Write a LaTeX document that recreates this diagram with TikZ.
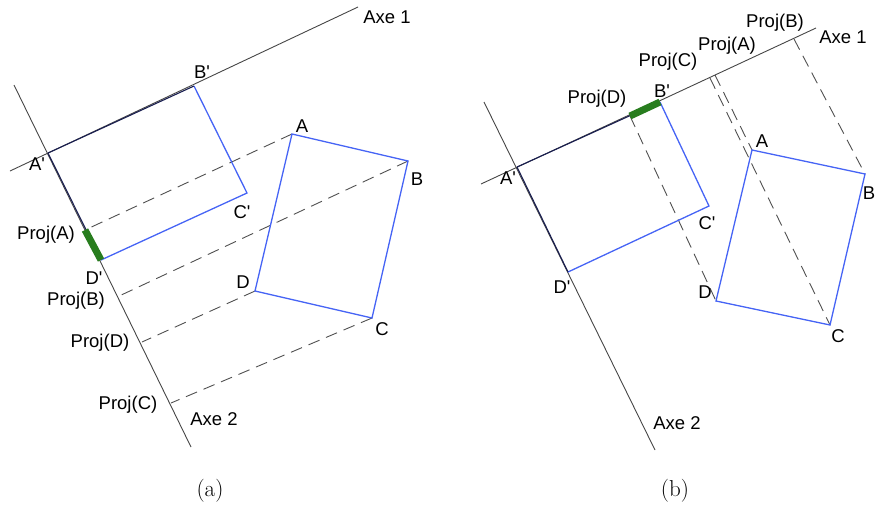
\documentclass[tikz,border=0pt]{standalone}
\usepackage{fontspec}
\setsansfont{Liberation Sans}[Ligatures=TeXOff]
\definecolor{edgeblue}{RGB}{70,100,245}
\definecolor{darkblue}{RGB}{25,30,80}
\definecolor{axisgray}{RGB}{70,70,70}
\definecolor{dashgray}{RGB}{80,80,80}
\definecolor{projgreen}{RGB}{40,125,30}
\begin{document}
\begin{tikzpicture}[x=1pt,y=-1pt,
 axis/.style={draw=axisgray,line width=0.9pt},
 edge/.style={draw=edgeblue,line width=1.3pt},
 dark/.style={draw=darkblue,line width=1.1pt},
 proj/.style={draw=dashgray,line width=0.9pt,dash pattern=on 12pt off 7pt},
 bar/.style={draw=projgreen,line width=7pt},
 lbl/.style={font=\sffamily\fontsize{18.5}{20}\selectfont,inner sep=0pt},
 captext/.style={font=\fontsize{23}{26}\selectfont,inner sep=0pt}]
\useasboundingbox (0,0) rectangle (876,507);

% ---------------- panel (a) ----------------
\coordinate (a1s) at (10,171);
\coordinate (a1e) at (358,7);
\coordinate (a2s) at (14,85);
\coordinate (a2e) at (191,447);
\coordinate (aAp) at (48,153);
\coordinate (aBp) at (194,86);
\coordinate (aCp) at (247,193);
\coordinate (aDp) at (101,260);
\coordinate (aA) at (292,134);
\coordinate (aB) at (408,161);
\coordinate (aC) at (372,318);
\coordinate (aD) at (255,291);
\coordinate (aPA) at (85,230);
\coordinate (aPB) at (117,297);
\coordinate (aPD) at (142,342);
\coordinate (aPC) at (171,403);

\draw[proj] (aA) -- (aPA);
\draw[proj] (aB) -- (aPB);
\draw[proj] (aD) -- (aPD);
\draw[proj] (aC) -- (aPC);
\draw[axis] (a1s) -- (a1e);
\draw[axis] (a2s) -- (a2e);
\draw[edge] (aBp) -- (aCp) -- (aDp);
\draw[dark] (aAp) -- (aBp);
\draw[dark] (aAp) -- (aDp);
\draw[edge] (aA) -- (aB) -- (aC) -- (aD) -- cycle;
\draw[bar] (aPA) -- (aDp);

\node[lbl] (la1) at (387,17) {Axe 1};
\node[lbl] (lbp) at (202,72) {B'};
\node[lbl] (lap) at (37,164) {A'};
\node[lbl] (lcp) at (242,212) {C'};
\node[lbl] (lpa) at (46,235) {Proj(A)};
\node[lbl] (ldp) at (94,278) {D'};
\node[lbl] (lpb) at (76,301) {Proj(B)};
\node[lbl] (lpd) at (100,343) {Proj(D)};
\node[lbl] (lpc) at (128,405) {Proj(C)};
\node[lbl] (la2) at (214,419) {Axe 2};
\node[lbl] (la) at (302,126) {A};
\node[lbl] (lb) at (417,179) {B};
\node[lbl] (lc) at (382,329) {C};
\node[lbl] (ld) at (243,282) {D};
\node[captext] (capa) at (210,491) {(a)};

% ---------------- panel (b) ----------------
\coordinate (b1s) at (481,184);
\coordinate (b1e) at (816,28);
\coordinate (b2s) at (484,102);
\coordinate (b2e) at (655,450);
\coordinate (bAp) at (517,167);
\coordinate (bBp) at (660,102);
\coordinate (bCp) at (709,206);
\coordinate (bDp) at (568,272);
\coordinate (bA) at (752,150);
\coordinate (bB) at (865,174);
\coordinate (bC) at (830,325);
\coordinate (bD) at (716,301);
\coordinate (bPD) at (630,116);
\coordinate (bPC) at (710,78);
\coordinate (bPA) at (715,75);
\coordinate (bPB) at (794,39);

\draw[proj] (bPD) -- (bD);
\draw[proj] (bPC) -- (bC);
\draw[proj] (bPA) -- (bA);
\draw[proj] (bPB) -- (bB);
\draw[axis] (b1s) -- (b1e);
\draw[axis] (b2s) -- (b2e);
\draw[edge] (bBp) -- (bCp) -- (bDp);
\draw[dark] (bAp) -- (bBp);
\draw[dark] (bAp) -- (bDp);
\draw[edge] (bA) -- (bB) -- (bC) -- (bD) -- cycle;
\draw[bar] (bPD) -- (bBp);

\node[lbl] (lb1) at (843,37) {Axe 1};
\node[lbl] (lbpb) at (775,23) {Proj(B)};
\node[lbl] (lbpa) at (727,46) {Proj(A)};
\node[lbl] (lbpc) at (668,62) {Proj(C)};
\node[lbl] (lbpd) at (597,99) {Proj(D)};
\node[lbl] (lbbp) at (662,91) {B'};
\node[lbl] (lbap) at (508,178) {A'};
\node[lbl] (lbcp) at (707,223) {C'};
\node[lbl] (lbdp) at (562,287) {D'};
\node[lbl] (lba) at (762,141) {A};
\node[lbl] (lbb) at (869,193) {B};
\node[lbl] (lbc) at (838,336) {C};
\node[lbl] (lbd) at (705,292) {D};
\node[lbl] (lb2) at (677,423) {Axe 2};
\node[captext] (capb) at (675,491) {(b)};
\end{tikzpicture}
\end{document}
